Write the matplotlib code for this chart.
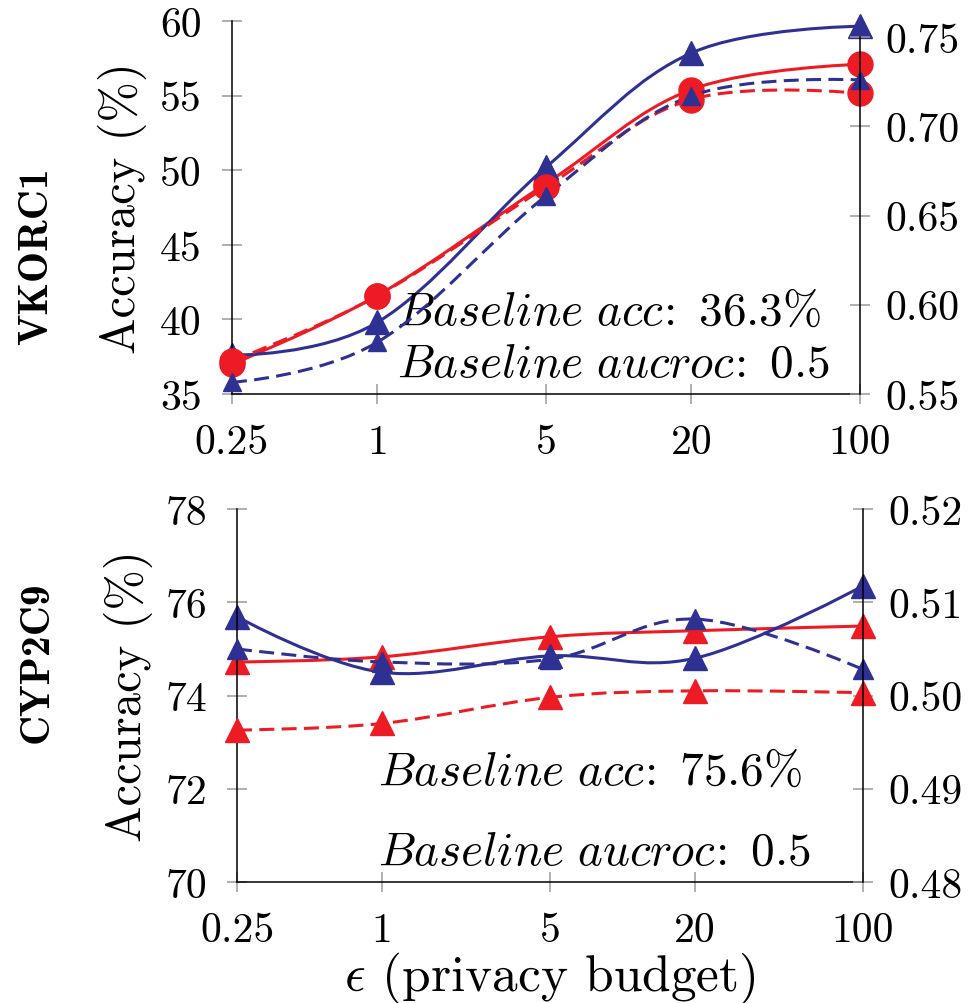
import numpy as np
import matplotlib
matplotlib.use("Agg")
import matplotlib.pyplot as plt
from matplotlib.path import Path
from matplotlib.patches import PathPatch
from matplotlib.ticker import NullLocator

plt.rcParams["font.family"] = "serif"
plt.rcParams["font.serif"] = ["cmr10"]
plt.rcParams["mathtext.fontset"] = "cm"
plt.rcParams["axes.unicode_minus"] = False

# privacy budgets on the x axis
eps = [0.25, 1, 5, 20, 100]
eps_labels = ["0.25", "1", "5", "20", "100"]

# VKORC1: accuracy (left axis, solid) and aucroc (right axis, dashed)
vk_acc_red = [37.0, 41.6, 49.1, 55.4, 57.1]
vk_acc_blue = [37.6, 39.8, 50.2, 57.85, 59.65]
vk_auc_red = [0.5685, 0.605, 0.666, 0.715, 0.7185]
vk_auc_blue = [0.5565, 0.579, 0.661, 0.717, 0.726]

# CYP2C9
cy_acc_red = [74.72, 74.83, 75.26, 75.39, 75.49]
cy_acc_blue = [75.69, 74.5, 74.85, 74.8, 76.35]
cy_auc_red = [0.4963, 0.497, 0.4998, 0.5005, 0.5003]
cy_auc_blue = [0.505, 0.5036, 0.5039, 0.5082, 0.5028]

RED = "#ED1C24"
BLUE = "#2E3192"


def smooth_line(ax, x, y, color, dashed=False, t=0.18):
    # bezier through the points (like pgfplots "smooth"), built in log-x space
    lx = np.log10(x)
    yy = np.asarray(y, dtype=float)
    n = len(lx)
    verts = [(lx[0], yy[0])]
    codes = [Path.MOVETO]
    for i in range(n - 1):
        if i == 0:
            c1 = (lx[0], yy[0])
        else:
            c1 = (lx[i] + t * (lx[i + 1] - lx[i - 1]), yy[i] + t * (yy[i + 1] - yy[i - 1]))
        if i + 1 == n - 1:
            c2 = (lx[i + 1], yy[i + 1])
        else:
            c2 = (lx[i + 1] - t * (lx[i + 2] - lx[i]), yy[i + 1] - t * (yy[i + 2] - yy[i]))
        verts += [c1, c2, (lx[i + 1], yy[i + 1])]
        codes += [Path.CURVE4] * 3
    verts = [(10 ** vx, vy) for vx, vy in verts]
    patch = PathPatch(Path(verts, codes), fill=False, edgecolor=color, lw=2.2,
                      capstyle="butt", joinstyle="round")
    if dashed:
        patch.set_linestyle((0, (4.9, 2.4)))
    ax.add_patch(patch)


def style_axes(ax, ax2):
    ax.set_xscale("log")
    ax.set_xlim(0.25, 100)
    ax.set_xticks(eps)
    ax.set_xticklabels(eps_labels)
    ax.xaxis.set_minor_locator(NullLocator())
    ax.spines["top"].set_visible(False)
    ax.spines["right"].set_visible(False)
    for s in ("top", "left", "bottom"):
        ax2.spines[s].set_visible(False)
    for a in (ax, ax2):
        for s in a.spines.values():
            s.set_linewidth(1.1)
        a.tick_params(direction="inout", length=15, width=1.1, color="#9a9a9a",
                      labelsize=30, pad=14)
    ax2.tick_params(axis="y", pad=11)
    ax.set_ylabel("Accuracy (%)", fontsize=35)
    ax.yaxis.set_label_coords(-0.135, 0.5)


def draw_panel(ax, ax2, acc_red, acc_blue, auc_red, auc_blue, red_marker, ms_red, ms_blue_dash):
    smooth_line(ax, eps, acc_red, RED)
    ax.plot(eps, acc_red, linestyle="none", marker=red_marker, ms=ms_red, color=RED, clip_on=False)
    smooth_line(ax, eps, acc_blue, BLUE)
    ax.plot(eps, acc_blue, linestyle="none", marker="^", ms=17, color=BLUE, clip_on=False)
    smooth_line(ax2, eps, auc_red, RED, dashed=True)
    ax2.plot(eps, auc_red, linestyle="none", marker=red_marker, ms=ms_red, color=RED, clip_on=False)
    smooth_line(ax2, eps, auc_blue, BLUE, dashed=True)
    ax2.plot(eps, auc_blue, linestyle="none", marker="^", ms=ms_blue_dash, color=BLUE, clip_on=False)


fig = plt.figure(figsize=(9.71, 10.04), dpi=100)

# top panel: VKORC1
ax1 = fig.add_axes([0.2389, 0.6066, 0.6468, 0.3715])
ax1r = ax1.twinx()
style_axes(ax1, ax1r)
draw_panel(ax1, ax1r, vk_acc_red, vk_acc_blue, vk_auc_red, vk_auc_blue, "o", 18, 13)
ax1.set_ylim(35, 60)
ax1.set_yticks([35, 40, 45, 50, 55, 60])
ax1r.set_ylim(0.55, 0.759)
ax1r.set_yticks([0.55, 0.60, 0.65, 0.70, 0.75])
ax1r.set_yticklabels(["0.55", "0.60", "0.65", "0.70", "0.75"])
ax1r.spines["right"].set_bounds(0.55, 0.75)
ax1.text(0.262, 0.222, r"$\mathit{Baseline\ acc\!:\ 36.3\%}$", transform=ax1.transAxes,
         fontsize=34, ha="left", va="center")
ax1.text(0.262, 0.08, r"$\mathit{Baseline\ aucroc\!:\ 0.5}$", transform=ax1.transAxes,
         fontsize=34, ha="left", va="center")

# bottom panel: CYP2C9
ax2 = fig.add_axes([0.2441, 0.1205, 0.6447, 0.3715])
ax2r = ax2.twinx()
style_axes(ax2, ax2r)
draw_panel(ax2, ax2r, cy_acc_red, cy_acc_blue, cy_auc_red, cy_auc_blue, "^", 17, 14)
ax2.set_ylim(70, 78)
ax2.set_yticks([70, 72, 74, 76, 78])
ax2r.set_ylim(0.48, 0.52)
ax2r.set_yticks([0.48, 0.49, 0.50, 0.51, 0.52])
ax2r.set_yticklabels(["0.48", "0.49", "0.50", "0.51", "0.52"])
ax2.text(0.226, 0.295, r"$\mathit{Baseline\ acc\!:\ 75.6\%}$", transform=ax2.transAxes,
         fontsize=34, ha="left", va="center")
ax2.text(0.226, 0.08, r"$\mathit{Baseline\ aucroc\!:\ 0.5}$", transform=ax2.transAxes,
         fontsize=34, ha="left", va="center")
ax2.set_xlabel(r"$\epsilon$ (privacy budget)", fontsize=37, labelpad=0)

fig.text(0.038, 0.745, "VKORC1", rotation=90, ha="center", va="center",
         fontsize=30, family="cmb10")
fig.text(0.038, 0.34, "CYP2C9", rotation=90, ha="center", va="center",
         fontsize=30, family="cmb10")

fig.savefig("out.png", dpi=100)
